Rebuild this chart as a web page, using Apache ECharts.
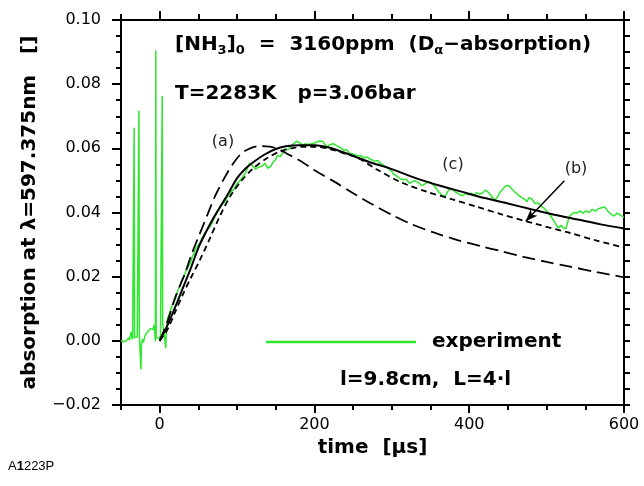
<!DOCTYPE html>
<html><head><meta charset="utf-8">
<script src="https://cdn.jsdelivr.net/npm/echarts@6/dist/echarts.min.js"></script>
<style>html,body{margin:0;padding:0;background:#fff}#c{width:644px;height:486px}</style>
</head><body><div id="c"></div>
<script>
// ---- data (time in µs, absorption) ----
const experiment = [
[-50,0.0000],[-48,0.0004],[-46,-0.0003],[-44,-0.0006],[-42,0.0003],[-40,0.0010],[-39,0.0002],[-38,0.0008],[-37,0.0028],[-36,0.0012],[-35,0.0004],[-34,0.0002],[-33.5,0.0004],[-33,0.0664],[-32.5,0.0010],[-31,0.0008],[-29,0.0012],[-28,0.0010],[-27.3,0.0015],[-26.8,0.0717],[-26.3,0.0020],[-25,0.0015],[-24.3,-0.0089],[-23.5,-0.0010],[-22,0.0005],[-21,-0.0005],[-19.5,0.0012],[-18,0.0020],[-16.5,0.0015],[-15,0.0030],[-13.5,0.0025],[-12,0.0038],[-10,0.0042],[-8.5,0.0035],[-7,0.0050],[-6,0.0015],[-5.5,-0.0002],[-5,0.0906],[-4.5,0.0010],[-3,0.0012],[-1,0.0008],[1,0.0015],[2.8,0.0020],[3.3,0.0763],[3.8,0.0050],[5.5,0.0030],[7.8,-0.0023],[9,0.0050],[10.5,0.0072],[12,0.0080],[14,0.0095],[16,0.0110],[18,0.0118],[20,0.0128],[22,0.0145],[24,0.0160],[26,0.0172],[28,0.0185],[30,0.0195],[32,0.0205],[34,0.0218],[36,0.0228],[38,0.0235],[40,0.0245],[42,0.0262],[44,0.0270],[46,0.0285],[48,0.0293],[50,0.0298],[52,0.0305],[54,0.0318],[56,0.0325],[58,0.0335],[60,0.0342],[62,0.0348],[65,0.0356],[68,0.0368],[70,0.0380],[72,0.0390],[74,0.0398],[76,0.0408],[78,0.0418],[80,0.0422],[83,0.0430],[86,0.0442],[88,0.0450],[90,0.0455],[92,0.0465],[94,0.0468],[96,0.0472],[98,0.0482],[100,0.0490],[102,0.0495],[104,0.0500],[106,0.0508],[108,0.0512],[110,0.0520],[112,0.0530],[114,0.0542],[116,0.0553],[118,0.0550],[120,0.0546],[122,0.0540],[124,0.0535],[126,0.0538],[128,0.0542],[130,0.0540],[132,0.0544],[134,0.0550],[136,0.0553],[138,0.0545],[140,0.0538],[142,0.0535],[144,0.0545],[146,0.0556],[148,0.0558],[150,0.0565],[152,0.0578],[154,0.0580],[156,0.0574],[158,0.0582],[160,0.0590],[162,0.0597],[164,0.0600],[166,0.0596],[168,0.0600],[170,0.0608],[172,0.0612],[174,0.0616],[177,0.0622],[179,0.0626],[181,0.0617],[183,0.0612],[185,0.0610],[188,0.0614],[190,0.0616],[192,0.0612],[194,0.0618],[196,0.0614],[198,0.0610],[200,0.0616],[203,0.0620],[205,0.0624],[207,0.0623],[209,0.0618],[211,0.0621],[213,0.0614],[216,0.0604],[218,0.0608],[220,0.0612],[222,0.0610],[225,0.0614],[227,0.0610],[230,0.0606],[232,0.0600],[234,0.0602],[236,0.0597],[238,0.0594],[241,0.0596],[243,0.0590],[246,0.0584],[248,0.0586],[250,0.0582],[252,0.0585],[255,0.0578],[257,0.0575],[260,0.0577],[262,0.0571],[264,0.0570],[266,0.0575],[268,0.0573],[270,0.0568],[273,0.0565],[275,0.0561],[278,0.0560],[280,0.0563],[282,0.0562],[284,0.0555],[286,0.0553],[288,0.0550],[290,0.0546],[292,0.0542],[294,0.0540],[296,0.0537],[298,0.0533],[300,0.0528],[302,0.0520],[304,0.0516],[306,0.0514],[308,0.0510],[310,0.0506],[312,0.0505],[314,0.0502],[316,0.0506],[318,0.0504],[320,0.0498],[323,0.0491],[325,0.0489],[327,0.0497],[330,0.0499],[332,0.0496],[334,0.0494],[336,0.0488],[338,0.0485],[341,0.0486],[343,0.0490],[345,0.0493],[347,0.0496],[349,0.0496],[351,0.0490],[354,0.0485],[356,0.0480],[358,0.0473],[360,0.0466],[362,0.0460],[364,0.0456],[366,0.0452],[368,0.0449],[370,0.0456],[372,0.0464],[374,0.0472],[376,0.0475],[378,0.0472],[380,0.0468],[383,0.0463],[385,0.0460],[387,0.0457],[389,0.0454],[391,0.0452],[393,0.0456],[395,0.0460],[397,0.0458],[399,0.0455],[401,0.0456],[403,0.0460],[405,0.0455],[407,0.0452],[409,0.0462],[411,0.0465],[413,0.0458],[415,0.0455],[417,0.0460],[419,0.0466],[421,0.0470],[423,0.0468],[425,0.0462],[427,0.0457],[429,0.0450],[431,0.0444],[433,0.0438],[435,0.0440],[437,0.0450],[439,0.0460],[441,0.0466],[443,0.0472],[445,0.0478],[447,0.0483],[449,0.0486],[451,0.0484],[453,0.0478],[455,0.0474],[457,0.0470],[459,0.0464],[461,0.0460],[463,0.0455],[465,0.0452],[467,0.0448],[469,0.0446],[471,0.0442],[473,0.0436],[475,0.0434],[477,0.0446],[479,0.0452],[481,0.0442],[483,0.0436],[485,0.0428],[487,0.0426],[489,0.0430],[491,0.0425],[493,0.0420],[495,0.0416],[497,0.0413],[499,0.0410],[501,0.0402],[503,0.0396],[505,0.0390],[507,0.0384],[509,0.0376],[511,0.0368],[513,0.0360],[515,0.0352],[517,0.0356],[519,0.0360],[521,0.0352],[523,0.0347],[525,0.0350],[527,0.0368],[529,0.0384],[531,0.0392],[533,0.0397],[535,0.0400],[537,0.0396],[539,0.0398],[541,0.0402],[543,0.0405],[545,0.0400],[547,0.0398],[549,0.0402],[551,0.0405],[553,0.0403],[555,0.0400],[557,0.0406],[559,0.0410],[561,0.0406],[563,0.0404],[565,0.0410],[567,0.0412],[569,0.0410],[571,0.0415],[573,0.0418],[575,0.0417],[577,0.0412],[579,0.0405],[581,0.0400],[583,0.0395],[585,0.0391],[587,0.0389],[589,0.0394],[591,0.0398],[593,0.0396],[595,0.0393],[597,0.0388],[599,0.0386],[600,0.0385]
];
// model curve (a): long dashes
const curveA = [[0,0],[10,0.0060],[20,0.0135],[32.7,0.0210],[42,0.0275],[52,0.0335],[62,0.0395],[71.4,0.0450],[83,0.0505],[95,0.0553],[106,0.0585],[117,0.0600],[129,0.0607],[142,0.0605],[153,0.0598],[164,0.0584],[181,0.0562],[200,0.0532],[225,0.0497],[250,0.0460],[275,0.0425],[299,0.0394],[325,0.0364],[355,0.0337],[385,0.0314],[415,0.0295],[442,0.0279],[470,0.0262],[500,0.0246],[529,0.0232],[565,0.0214],[600,0.0198]];
// model curve (b): short dashes
const curveB = [[0,0],[10,0.0035],[20,0.0090],[30,0.0145],[40,0.0195],[52,0.0252],[65,0.0320],[78,0.0390],[91,0.0450],[105,0.0497],[121,0.0538],[138,0.0568],[155,0.0590],[170,0.0600],[185,0.0605],[200,0.0605],[220,0.0598],[240,0.0583],[255,0.0572],[280,0.0535],[312,0.0494],[345,0.0465],[377,0.0442],[410,0.0418],[442,0.0394],[485,0.0365],[529,0.0337],[565,0.0312],[600,0.0291]];
// model curve (c): solid
const curveC = [[0,0],[10,0.0048],[20,0.0105],[30,0.0165],[40,0.0225],[50,0.0290],[60,0.0340],[70,0.0385],[80,0.0425],[90,0.0465],[100,0.0507],[110,0.0535],[120,0.0555],[135,0.0580],[150,0.0598],[165,0.0607],[180,0.0610],[200,0.0610],[220,0.0602],[246,0.0580],[270,0.0558],[299,0.0536],[330,0.0508],[360,0.0485],[390,0.0465],[420,0.0445],[450,0.0428],[480,0.0410],[510,0.0393],[540,0.0378],[570,0.0363],[600,0.0350]];
const arrowB = [[523,0.0499],[473,0.0373]];
const xMajorTicks = [0,200,400,600];
const xMinorTicks = [-50,0,50,100,150,200,250,300,350,400,450,500,550,600];

const F = 'DejaVu Sans';
const K = '#000';
const chart = echarts.init(document.getElementById('c'));

function xAx(pos, values, len, showLine, showLabel) {
  return {
    type:'value', min:-50, max:600, position:pos,
    axisLine:{show:showLine, onZero:false, lineStyle:{color:K,width:2}},
    axisTick:{show:true, customValues:values, length:len, lineStyle:{color:K,width:2}},
    axisLabel:{show:showLabel, customValues:xMajorTicks, fontFamily:F, fontSize:16, color:K, margin:12},
    splitLine:{show:false}
  };
}
const xMain = xAx('bottom', xMajorTicks, 8, true, true);
xMain.name = 'time  [\u03bcs]';
xMain.nameLocation = 'middle';
xMain.nameGap = 26;
xMain.nameTextStyle = {fontFamily:F, fontSize:20, fontWeight:'bold', color:K};

const fmtY = v => (v < -1e-9 ? '\u2212' : '') + Math.abs(v).toFixed(2);
function yAx(pos, majorLen, minorLen, showLabel) {
  return {
    type:'value', min:-0.02, max:0.10, interval:0.02, position:pos,
    axisLine:{show:true, onZero:false, lineStyle:{color:K,width:2}},
    axisTick:{show:true, length:majorLen, lineStyle:{color:K,width:2}},
    minorTick:{show:true, splitNumber:4, length:minorLen, lineStyle:{color:K,width:2}},
    axisLabel:{show:showLabel, formatter:fmtY, fontFamily:F, fontSize:16, color:K, margin:20},
    splitLine:{show:false}, minorSplitLine:{show:false}
  };
}
const yMain = yAx('left', 9, 5, true);
yMain.name = 'absorption at \u03bb=597.375nm   []';
yMain.nameLocation = 'middle';
yMain.nameGap = 81;
yMain.nameTextStyle = {fontFamily:F, fontSize:20, fontWeight:'bold', color:K};

const txt = (x, y, text, extra) => ({type:'text', x, y, silent:true, style:Object.assign({text, fontFamily:F, fontSize:20, fontWeight:'bold', fill:K, verticalAlign:'middle'}, extra||{})});

chart.setOption({
  animation:false,
  backgroundColor:'#fff',
  grid:{left:121, right:20, top:20, bottom:81, containLabel:false},
  xAxis:[xMain, xAx('bottom', xMinorTicks, 5, false, false), xAx('top', xMajorTicks, 9, true, false), xAx('top', xMinorTicks, 6, false, false)],
  yAxis:[yMain, yAx('right', 6, 6, false)],
  series:[
    {type:'line', name:'experiment', data:experiment, showSymbol:false, symbol:'none', lineStyle:{color:'#2de82d', width:1.5}, z:2},
    {type:'line', name:'(a)', data:curveA, showSymbol:false, symbol:'none', smooth:0.3, lineStyle:{color:K, width:1.8, type:[13,6]}, z:3},
    {type:'line', name:'(b)', data:curveB, showSymbol:false, symbol:'none', smooth:0.3, lineStyle:{color:K, width:1.8, type:[6,4]}, z:3,
      markLine:{silent:true, symbol:['none','arrow'], symbolSize:[7,12], label:{show:false},
        lineStyle:{color:K, width:1.5, type:'solid'},
        data:[[{coord:arrowB[0]},{coord:arrowB[1]}]]}},
    {type:'line', name:'(c)', data:curveC, showSymbol:false, symbol:'none', smooth:0.3, lineStyle:{color:K, width:2}, z:4}
  ],
  graphic:[
    txt(175, 45, '{n|[NH}{s|3}{n|]}{s|0}{n|  =  3160ppm  (D}{s|\u03b1}{n|\u2212absorption)}', {rich:{
      n:{fontFamily:F, fontSize:20, fontWeight:'bold', fill:K},
      s:{fontFamily:F, fontSize:13, fontWeight:'bold', fill:K, padding:[12,0,0,0]}}}),
    txt(175, 94, 'T=2283K   p=3.06bar'),
    txt(223, 142, '(a)', {fontSize:16, fontWeight:'normal', fill:'#222', align:'center'}),
    txt(453, 165, '(c)', {fontSize:16, fontWeight:'normal', fill:'#222', align:'center'}),
    txt(576, 169, '(b)', {fontSize:16, fontWeight:'normal', fill:'#222', align:'center'}),
    {type:'line', silent:true, shape:{x1:266, y1:342, x2:416, y2:342}, style:{stroke:'#2de82d', lineWidth:2.5}},
    txt(432, 342, 'experiment'),
    txt(340, 380, 'l=9.8cm,  L=4\u00b7l'),
    {type:'text', x:8, y:466, silent:true, style:{text:'{a|A}{b|1}{a|223P}', verticalAlign:'middle', rich:{
      a:{fontFamily:'Liberation Sans', fontSize:13, fill:K},
      b:{fontFamily:'Liberation Sans', fontSize:13, fontWeight:'bold', fill:K}}}}
  ]
});
</script></body></html>
